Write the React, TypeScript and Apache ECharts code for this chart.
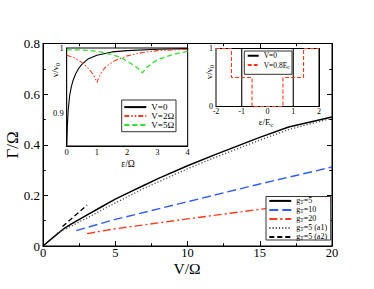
import React, { useEffect, useRef } from "react";
import * as echarts from "echarts";

const FONT = "'Liberation Serif', 'DejaVu Serif', serif";

// Main panel: Gamma/Omega vs V/Omega
const gT5_V = [0, 0.5, 1, 1.5, 2, 3, 4, 5, 6, 7, 8, 10, 12, 15, 17, 20];
const gT5_G = [0, 0.024, 0.048, 0.071, 0.088, 0.121, 0.153, 0.185, 0.213, 0.24, 0.267, 0.317, 0.363, 0.429, 0.47, 0.51];
const gT10_V = [2.3, 5, 10, 15, 20];
const gT10_G = [0.061, 0.105, 0.175, 0.245, 0.312];
const gT20_V = [3.05, 5, 10, 15, 20];
const gT20_G = [0.049, 0.068, 0.107, 0.145, 0.18];
const a1_V = [1, 2, 3, 4, 5, 7, 10, 12, 15, 17, 20];
const a1_G = [0.052, 0.08, 0.109, 0.14, 0.17, 0.228, 0.305, 0.352, 0.418, 0.46, 0.505];
const a2_V = [1.35, 3.05];
const a2_G = [0.077, 0.162];

// Inset 1: nu/nu0 vs eps/Omega
const in1_V0_e = [0, 0.02, 0.05, 0.1, 0.15, 0.2, 0.3, 0.4, 0.5, 0.7, 1, 1.5, 2, 3, 4];
const in1_V0_n = [0.85, 0.88, 0.905, 0.928, 0.94, 0.949, 0.961, 0.969, 0.975, 0.983, 0.989, 0.994, 0.996, 0.998, 0.999];
const in1_V2_e = [0, 0.25, 0.5, 0.65, 0.75, 0.85, 0.93, 1, 1.07, 1.15, 1.25, 1.4, 1.6, 2, 2.5, 3, 4];
const in1_V2_n = [0.989, 0.985, 0.978, 0.972, 0.967, 0.961, 0.955, 0.947, 0.956, 0.963, 0.969, 0.975, 0.981, 0.988, 0.993, 0.996, 0.998];
const in1_V5_e = [0, 0.5, 1, 1.5, 1.8, 2, 2.2, 2.35, 2.5, 2.65, 2.8, 3, 3.3, 3.6, 4];
const in1_V5_n = [0.997, 0.997, 0.995, 0.99, 0.985, 0.98, 0.974, 0.969, 0.962, 0.97, 0.976, 0.982, 0.987, 0.991, 0.995];

// Inset 2: nu/nu0 vs eps/Ec
const in2_V0_e = [-2, -1, -1, 1, 1, 2];
const in2_V0_n = [1, 1, 0, 0, 1, 1];
const in2_V08_e = [-2, -1.4, -1.4, -0.6, -0.6, 0.6, 0.6, 1.4, 1.4, 2];
const in2_V08_n = [1, 1, 0.5, 0.5, 0, 0, 0.5, 0.5, 1, 1];

const RED = "#ff3a1c";
const BLUE = "#2f5cff";
const GREEN = "#2fe02f";

const zip = (a: number[], b: number[]) => a.map((v, i) => [v, b[i]]);

function axes(
  dim: "x" | "y",
  gridIndex: number,
  min: number,
  max: number,
  interval: number,
  minorSplit: number,
  fmt: (v: number) => string,
  fontSize: number,
  margin: number,
  tickLen: number
) {
  const common = {
    type: "value",
    gridIndex,
    min,
    max,
    interval,
    splitLine: { show: false },
    axisLine: { show: true, onZero: false, lineStyle: { color: "#000", width: 1 } },
    axisTick: { show: true, inside: true, length: tickLen, lineStyle: { color: "#000" } },
    minorTick: { show: minorSplit > 1, splitNumber: minorSplit, length: tickLen * 0.55, lineStyle: { color: "#000" } },
    minorSplitLine: { show: false },
  };
  const main = {
    ...common,
    position: dim === "x" ? "bottom" : "left",
    axisLabel: { show: true, formatter: fmt, fontSize, lineHeight: fontSize * 0.8, fontFamily: FONT, color: "#000", margin },
  };
  const mirror = {
    ...common,
    position: dim === "x" ? "top" : "right",
    axisLabel: { show: false },
  };
  return [main, mirror];
}

const gFmt = (v: number) => (Math.abs(v) < 1e-9 ? "0" : v.toFixed(1));
const intFmt = (v: number) => String(Math.round(v));
const in1yFmt = (v: number) => (Math.abs(v - 0.9) < 1e-6 ? "0.9" : Math.abs(v - 1) < 1e-6 ? "1" : "");
const in2yFmt = (v: number) => (Math.abs(v) < 1e-6 ? "0" : Math.abs(v - 1) < 1e-6 ? "1" : "");

const legendNames: Record<string, string> = {
  g5: "{m|g}{s|T}{m|=5}",
  g10: "{m|g}{s|T}{m|=10}",
  g20: "{m|g}{s|T}{m|=20}",
  a1: "{m|g}{s|T}{m|=5 (a1)}",
  a2: "{m|g}{s|T}{m|=5 (a2)}",
  i1v0: "V=0",
  i1v2: "V=2Ω",
  i1v5: "V=5Ω",
  i2v0: "{m|V=0}",
  i2v8: "{m|V=0.8E}{s|c}",
};

function line(name: string, data: number[][], color: string, type: any, idx: number, width = 1.4) {
  return {
    type: "line",
    name,
    data,
    xAxisIndex: idx,
    yAxisIndex: idx,
    symbol: "none",
    showSymbol: false,
    lineStyle: { color, width, type },
    itemStyle: { color },
    clip: true,
    z: 2,
  };
}

const hiddenSymbol = { color: "transparent", borderColor: "transparent", borderWidth: 0, opacity: 0 };

export default function App() {
  const ref = useRef<HTMLDivElement>(null);
  useEffect(() => {
    if (!ref.current) return;
    const chart = echarts.init(ref.current, undefined, { renderer: "svg" });

    const mx = axes("x", 0, 0, 20, 5, 2, intFmt, 12.5, 1.5, 5);
    const my = axes("y", 0, 0, 0.8, 0.2, 2, gFmt, 13, 3, 5);
    const i1x = axes("x", 1, 0, 4, 1, 2, intFmt, 8.5, 2.5, 3);
    const i1y = axes("y", 1, 0.85, 1, 0.05, 1, in1yFmt, 8.5, 3, 3);
    const i2x = axes("x", 2, -2, 2, 1, 2, intFmt, 8, 1.5, 3);
    const i2y = axes("y", 2, 0, 1, 0.5, 1, in2yFmt, 8, 3, 3);

    const xAxis = [mx[0], i1x[0], i2x[0], mx[1], i1x[1], i2x[1]];
    const yAxis = [my[0], i1y[0], i2y[0], my[1], i1y[1], i2y[1]];

    const richMain = {
      m: { fontSize: 8, fontFamily: FONT, color: "#000", lineHeight: 8.7 },
      s: { fontSize: 5.5, fontFamily: FONT, color: "#000", lineHeight: 8.7, padding: [3, 0, 0, 0] },
    };
    const rich2 = {
      m: { fontSize: 7.5, fontFamily: FONT, color: "#000", lineHeight: 9.3 },
      s: { fontSize: 5.5, fontFamily: FONT, color: "#000", lineHeight: 9.3, padding: [3, 0, 0, 0] },
    };

    const baseLegend = {
      orient: "vertical",
      itemGap: 0,
      padding: 0,
      backgroundColor: "transparent",
      borderWidth: 0,
      selectedMode: false,
      itemStyle: hiddenSymbol,
      formatter: (n: string) => legendNames[n],
      z: 5,
    };

    const option: any = {
      animation: false,
      backgroundColor: "#fff",
      grid: [
        { left: 43, top: 43.5, width: 289, height: 202.5, show: true, borderColor: "#000", borderWidth: 1, backgroundColor: "transparent", containLabel: false },
        { left: 66.7, top: 48, width: 121, height: 98, show: true, borderColor: "#000", borderWidth: 1, backgroundColor: "#fff", containLabel: false, z: 1 },
        { left: 216, top: 48.5, width: 103, height: 58, show: true, borderColor: "#000", borderWidth: 1, backgroundColor: "#fff", containLabel: false, z: 1 },
      ],
      xAxis,
      yAxis,
      legend: [
        {
          ...baseLegend,
          data: ["g5", "g10", "g20", "a1", "a2"],
          left: 268.3,
          top: 196.4,
          itemWidth: 22,
          itemHeight: 8.7,
          textStyle: { fontFamily: FONT, fontSize: 8, lineHeight: 8.7, color: "#000", rich: richMain },
        },
        {
          ...baseLegend,
          data: ["i1v0", "i1v2", "i1v5"],
          left: 123.3,
          top: 102.6,
          itemWidth: 22,
          itemHeight: 8.7,
          textStyle: { fontFamily: FONT, fontSize: 9, lineHeight: 8.7, color: "#000" },
        },
        {
          ...baseLegend,
          data: ["i2v0", "i2v8"],
          left: 246.7,
          top: 51.1,
          itemWidth: 11,
          itemHeight: 9.3,
          textStyle: { fontFamily: FONT, fontSize: 7.5, lineHeight: 9.3, color: "#000", rich: rich2 },
        },
      ],
      series: [
        line("g5", zip(gT5_V, gT5_G), "#000", "solid", 0, 1.5),
        line("g10", zip(gT10_V, gT10_G), BLUE, [9, 4], 0),
        line("g20", zip(gT20_V, gT20_G), RED, [8, 3, 2, 3], 0),
        line("a1", zip(a1_V, a1_G), "#555", [1.2, 2], 0),
        line("a2", zip(a2_V, a2_G), "#000", [5, 3], 0),
        line("i1v0", zip(in1_V0_e, in1_V0_n), "#000", "solid", 1, 1.1),
        line("i1v2", zip(in1_V2_e, in1_V2_n), RED, [5, 2, 1.5, 2, 1.5, 2], 1, 1.1),
        line("i1v5", zip(in1_V5_e, in1_V5_n), GREEN, [5, 3], 1, 1.3),
        line("i2v0", zip(in2_V0_e, in2_V0_n), "#000", "solid", 2, 1.1),
        line("i2v8", zip(in2_V08_e, in2_V08_n), RED, [4, 2], 2, 1.1),
      ],
      graphic: [
        { type: "rect", z: 3, shape: { x: 266, y: 196.5, width: 64.7, height: 43.5 }, style: { fill: "#fff", stroke: "#333", lineWidth: 1 } },
        { type: "rect", z: 3, shape: { x: 121.7, y: 100, width: 54.3, height: 31.7 }, style: { fill: "#fff", stroke: "#333", lineWidth: 1 } },
        { type: "rect", z: 3, shape: { x: 244.3, y: 51, width: 47.7, height: 23.3 }, style: { fill: "#fff", stroke: "#333", lineWidth: 1 } },
        { type: "text", x: 187, y: 268.5, style: { text: "V/Ω", fontSize: 15.5, fontFamily: FONT, fill: "#000", align: "center", verticalAlign: "middle" } },
        { type: "text", x: 12, y: 145, rotation: Math.PI / 2, style: { text: "Γ/Ω", fontSize: 17, fontFamily: FONT, fill: "#000", align: "center", verticalAlign: "middle" } },
        { type: "text", x: 128, y: 164, style: { text: "ε/Ω", fontSize: 9.5, fontFamily: FONT, fill: "#000", align: "center", verticalAlign: "middle" } },
        {
          type: "text", x: 55, y: 70, rotation: Math.PI / 2,
          style: { text: "{m|ν/ν}{s|0}", fontFamily: FONT, fill: "#000", align: "center", verticalAlign: "middle", rich: { m: { fontSize: 9, fontFamily: FONT }, s: { fontSize: 6.5, fontFamily: FONT, padding: [4, 0, 0, 0] } } },
        },
        {
          type: "text", x: 266, y: 122,
          style: { text: "{m|ε/E}{s|c}", fontFamily: FONT, fill: "#000", align: "center", verticalAlign: "middle", rich: { m: { fontSize: 9, fontFamily: FONT }, s: { fontSize: 6.5, fontFamily: FONT, padding: [4, 0, 0, 0] } } },
        },
        {
          type: "text", x: 209, y: 72, rotation: Math.PI / 2,
          style: { text: "{m|ν/ν}{s|0}", fontFamily: FONT, fill: "#000", align: "center", verticalAlign: "middle", rich: { m: { fontSize: 9, fontFamily: FONT }, s: { fontSize: 6.5, fontFamily: FONT, padding: [4, 0, 0, 0] } } },
        },
      ],
    };
    chart.setOption(option);
    return () => chart.dispose();
  }, []);
  return <div ref={ref} style={{ width: 374, height: 289, position: "absolute", left: 0, top: 0 }} />;
}
